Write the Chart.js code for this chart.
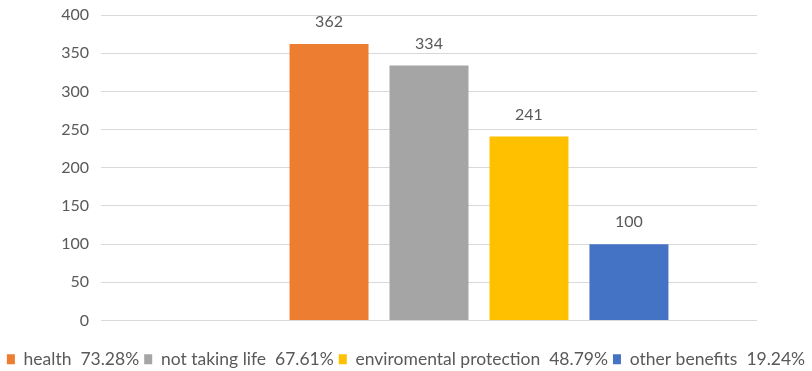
<!DOCTYPE html>
<html>
<head>
<meta charset="utf-8">
<script src="https://cdn.jsdelivr.net/npm/chart.js@4/dist/chart.umd.min.js"></script>
<style>
  html, body { margin: 0; padding: 0; background: #fff; overflow: hidden; }
  #wrap { width: 812px; height: 378px; position: relative; }
</style>
</head>
<body>
<div id="wrap"><canvas id="chart"></canvas></div>
<script>
// chart data
const categories = [""];
const seriesNames = ["health", "not taking life", "enviromental protection", "other benefits"];
const seriesShares = ["73.28%", "67.61%", "48.79%", "19.24%"];
const seriesValues = [362, 334, 241, 100];
const seriesColors = ["#ED7D31", "#A5A5A5", "#FFC000", "#4472C4"];
const yTicks = { min: 0, max: 400, step: 50 };

const textColor = "#595959";
const fontFamily = "Lato, 'Liberation Sans', sans-serif";

// first slot of the group is empty in the original chart
const datasets = [{ label: "", data: [null], backgroundColor: "transparent" }];
seriesNames.forEach((name, i) => {
    datasets.push({
        label: name + "  " + seriesShares[i],
        data: [seriesValues[i]],
        backgroundColor: seriesColors[i]
    });
});

// value labels above the bars
const valueLabels = {
    id: "valueLabels",
    afterDatasetsDraw(chart) {
        const ctx = chart.ctx;
        ctx.save();
        ctx.font = "16px " + fontFamily;
        ctx.fillStyle = textColor;
        ctx.textAlign = "center";
        ctx.textBaseline = "middle";
        chart.data.datasets.forEach((ds, i) => {
            const meta = chart.getDatasetMeta(i);
            meta.data.forEach((bar, j) => {
                const v = ds.data[j];
                if (v == null) return;
                ctx.fillText(String(v), bar.x, bar.y - 22);
            });
        });
        ctx.restore();
    }
};

new Chart(document.getElementById("chart"), {
    type: "bar",
    data: { labels: categories, datasets: datasets },
    options: {
        responsive: true,
        maintainAspectRatio: false,
        animation: false,
        layout: { padding: { top: 15, right: 0, bottom: 0, left: 0 } },
        datasets: {
            bar: { categoryPercentage: 0.762, barPercentage: 0.79 }
        },
        scales: {
            x: {
                grid: { display: false },
                border: { display: false },
                ticks: { display: false },
                afterFit(scale) { scale.height = 25; }
            },
            y: {
                min: yTicks.min,
                max: yTicks.max,
                ticks: {
                    stepSize: yTicks.step,
                    color: textColor,
                    padding: 12,
                    font: { family: fontFamily, size: 16 }
                },
                grid: { color: "#D9D9D9", drawTicks: false },
                border: { display: false },
                afterFit(scale) {
                    scale.width = 101;
                    scale.paddingTop = 0;
                    scale.paddingBottom = 0;
                }
            },
            // empty right-hand margin, kept as an axis so the legend can use the full width
            yRight: {
                position: "right",
                grid: { display: false },
                border: { display: false },
                ticks: { display: false },
                afterFit(scale) { scale.width = 55; }
            }
        },
        plugins: {
            tooltip: { enabled: false },
            legend: {
                position: "bottom",
                labels: {
                    color: textColor,
                    boxWidth: 8,
                    boxHeight: 10,
                    padding: 5,
                    font: { family: fontFamily, size: 17.5 },
                    filter: item => item.text !== ""
                }
            }
        }
    },
    plugins: [valueLabels]
});
</script>
</body>
</html>
